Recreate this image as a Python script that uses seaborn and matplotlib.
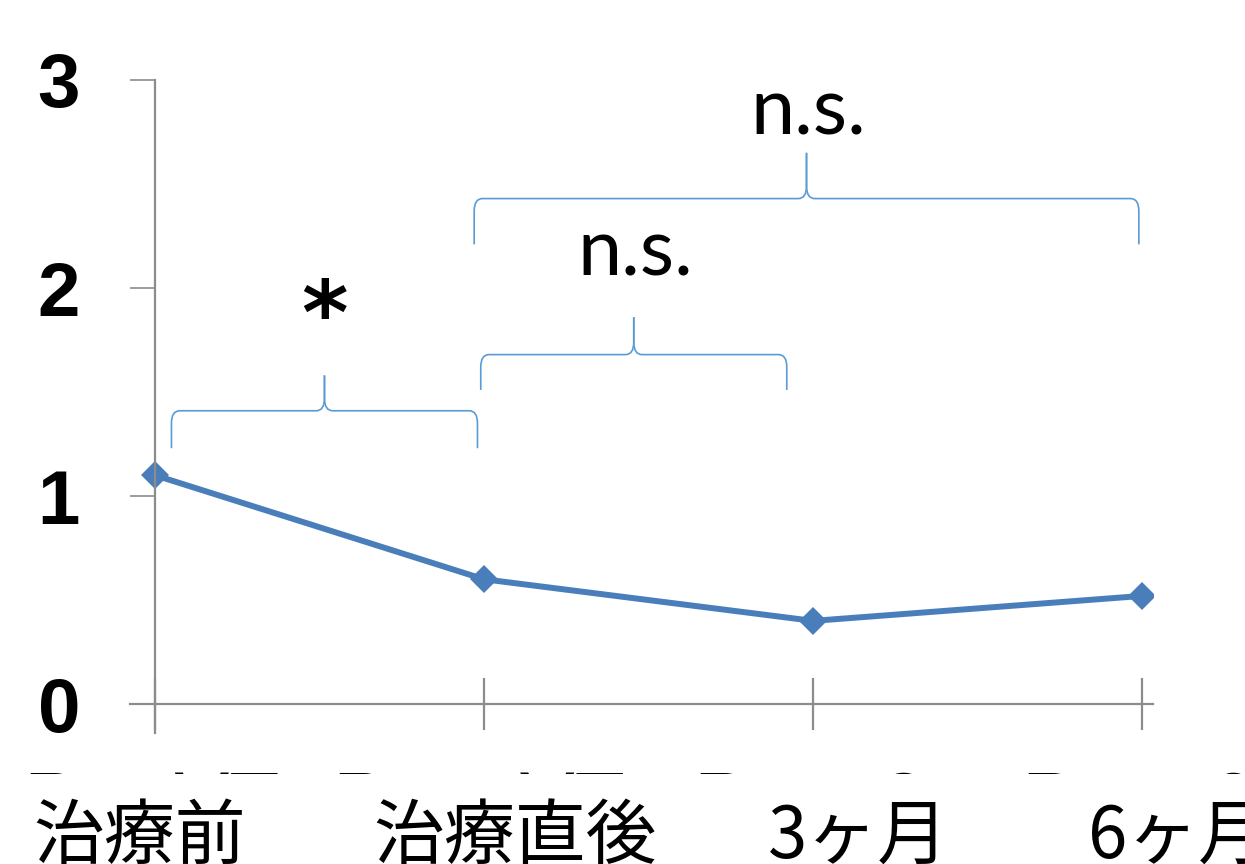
import numpy as np
import pandas as pd
import seaborn as sns
import matplotlib
matplotlib.use("Agg")
import matplotlib.pyplot as plt
from matplotlib.path import Path
from matplotlib.patches import PathPatch
from matplotlib.transforms import Bbox

# ---- data ----
categories = ["治療前", "治療直後", "3ヶ月", "6ヶ月"]
hidden_labels = ["Pre VT", "Post VT", "Post 3m", "Post 6m"]
values = [1.10, 0.60, 0.40, 0.52]
yticks = [0, 1, 2, 3]
ytick_labels = ["0", "1", "2", "3"]
# brackets
bracket_x0 = [0.05, 0.99, 0.97]
bracket_x1 = [0.98, 1.92, 2.99]
bracket_ybar = [1.41, 1.68, 2.43]
bracket_ybot = [1.23, 1.51, 2.21]
bracket_ytip = [1.58, 1.86, 2.65]
bracket_labels = ["*", "n.s.", "n.s."]
bracket_label_y = [1.64, 2.06, 2.74]

sns.set_theme(style="white")
plt.rcParams["font.family"] = ["Noto Sans CJK JP", "DejaVu Sans"]

W, H = 1245, 864
fig = plt.figure(figsize=(W / 100, H / 100), dpi=100)
ax = fig.add_axes([130 / W, (H - 733) / H, (1153 - 130) / W, (733 - 80) / H])

df = pd.DataFrame({"t": categories, "v": values})
line_color = "#4a7ebb"
sns.lineplot(data=df, x="t", y="v", ax=ax, color=line_color, lw=4.3,
             marker="D", markersize=14, markeredgewidth=0, sort=False)

ax.set_xlim(-0.076, 3.033)
ax.set_ylim(-0.139, 3.0)

grey = "#8c8c8c"
for s in ["top", "right"]:
    ax.spines[s].set_visible(False)
ax.spines["left"].set_position(("data", 0))
ax.spines["bottom"].set_position(("data", 0))
for s in ["left", "bottom"]:
    ax.spines[s].set_color(grey)
    ax.spines[s].set_linewidth(1.6)

ax.set_yticks(yticks)
ax.set_yticklabels(ytick_labels, fontfamily="Liberation Sans", fontweight="bold",
                   fontsize=55, color="black")
ax.tick_params(axis="y", direction="out", length=18, width=1.2, color=grey, pad=36,
               left=True)
ax.set_xticks(range(len(categories)))
ax.set_xticklabels([""] * len(categories))
ax.tick_params(axis="x", direction="inout", length=37, width=1.6, color=grey,
               bottom=True)
ax.set_xlabel("")
ax.set_ylabel("")

# ---- braces ----
bcol = "#5b9bd5"
rx, ry = 0.025, 0.06
for x0, x1, yb, yf, yt, lab, ly in zip(bracket_x0, bracket_x1, bracket_ybar,
                                       bracket_ybot, bracket_ytip, bracket_labels,
                                       bracket_label_y):
    xm = (x0 + x1) / 2
    for xe, sgn in ((x0, 1), (x1, -1)):
        verts = [(xe, yf), (xe, yb - ry), (xe, yb), (xe + sgn * rx, yb),
                 (xm - sgn * rx, yb), (xm, yb), (xm, yb + ry), (xm, yt)]
        codes = [Path.MOVETO, Path.LINETO, Path.CURVE3, Path.CURVE3,
                 Path.LINETO, Path.CURVE3, Path.CURVE3, Path.LINETO]
        ax.add_patch(PathPatch(Path(verts, codes), fill=False, edgecolor=bcol,
                               lw=1.2, clip_on=False))
    if lab == "*":
        ax.text(xm, ly, lab, ha="center", va="bottom", fontsize=64,
                fontweight="bold", family="DejaVu Sans", color="black")
    else:
        ax.text(xm + 0.005, ly, lab, ha="center", va="baseline", fontsize=57,
                family="Lato", color="black")

# ---- hidden english labels (only a thin strip visible) ----
clip = Bbox.from_extents(0, H - 774, W, H - 769)
for x, lab in zip([24, 333, 694, 1022], hidden_labels):
    t = fig.text(x / W, (H - 829) / H, lab, ha="left", va="baseline",
                 fontsize=59, family="Liberation Sans", color="black")
    t.set_clip_box(clip)
    t.set_clip_on(True)

# ---- japanese category labels ----
for x, lab in zip([33, 373, 768, 1088], categories):
    fig.text(x / W, (H - 858) / H, lab, ha="left", va="baseline", fontsize=51,
             family=["Noto Sans CJK JP", "DejaVu Sans"], color="black")

fig.savefig("out.png", dpi=100, facecolor="white")
